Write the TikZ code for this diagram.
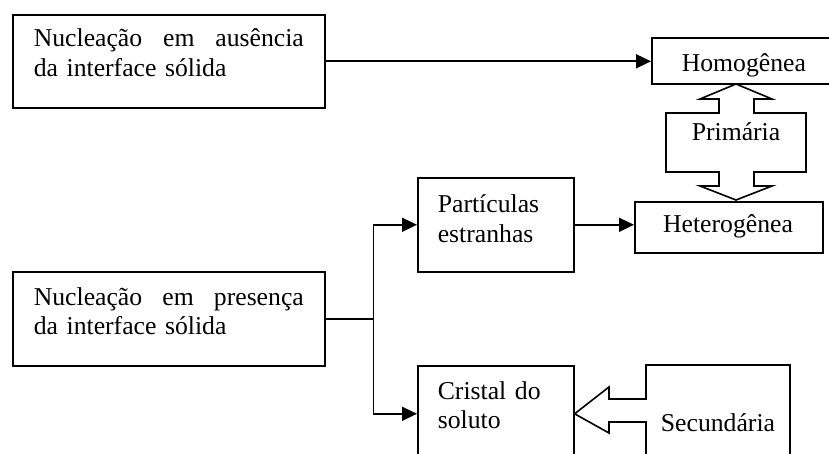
\documentclass[tikz,border=0pt]{standalone}
\usepackage{fontspec}
\setmainfont{Liberation Serif}
\usetikzlibrary{arrows.meta}
\tikzset{
  box/.style={draw, line width=1.6pt, inner sep=0pt, anchor=north west},
  txt/.style={inner sep=0pt, font=\fontsize{25.7}{29.5}\selectfont},
  jtxt/.style={txt, text width=275pt, anchor=base west},
  mtxt/.style={txt, text width=140pt, anchor=base west},
  conn/.style={line width=1.6pt, -{Triangle[length=15pt,width=14pt]}},
  plain/.style={line width=1.6pt},
}
\begin{document}
\begin{tikzpicture}[x=1pt, y=-1pt, line width=1.6pt, line join=miter]
\useasboundingbox (0,0) rectangle (829,454);
\clip (0,0) rectangle (829,454);
\fill[white] (0,0) rectangle (829,454);
% boxes
\node[box, minimum width=312pt, minimum height=93pt] (b1) at (12,14) {};
\node[box, minimum width=312pt, minimum height=94pt] (b2) at (12,271) {};
\node[box, minimum width=190pt, minimum height=46pt] (homo) at (651,37) {};
\node[box, minimum width=188pt, minimum height=51pt] (hete) at (634,201) {};
\node[box, minimum width=156pt, minimum height=94pt] (part) at (417,177) {};
\node[box, minimum width=156pt, minimum height=96pt] (cris) at (417,365) {};
% texts
\node[jtxt] (t1) at (33,47) {\hbox to 270pt{Nucleação\hfill em\hfill ausência}\\\hbox{da interface sólida}};
\node[jtxt] (t2) at (33,305) {\hbox to 270pt{Nucleação\hfill em\hfill presença}\\\hbox{da interface sólida}};
\node[txt, anchor=base west] (thomo) at (681,72) {Homogênea};
\node[txt, anchor=base] (thete) at (728,233) {Heterogênea};
\node[mtxt] (tpart) at (437,213) {\hbox{Partículas}\\\hbox{estranhas}};
\node[mtxt] (tcris) at (437,399) {\hbox{Cristal do}\\\hbox{soluto}};
\node[txt, anchor=base] (tprim) at (736,141) {Primária};
\node[txt, anchor=base] (tsec) at (718,431) {Secundária};
% primary double arrow
\draw[plain] (736,84) -- (772,99) -- (754,99) -- (754,113) -- (806,113) -- (806,172)
  -- (754,172) -- (754,186) -- (772,186) -- (736,200) -- (700,186) -- (719,186)
  -- (719,172) -- (666,172) -- (666,113) -- (719,113) -- (719,99) -- (700,99) -- cycle;
% secondary box with arrow
\draw[plain] (646,470) -- (646,422) -- (609,422) -- (609,433) -- (cris.east) -- (609,387)
  -- (609,399) -- (646,399) -- (646,365) -- (790,365) -- (790,470);
% connectors
\coordinate (j) at ([xshift=48pt]b2.east);
\draw[conn] (b1.east) -- (b1.east -| homo.west);
\draw[plain] (b2.east) -- (j);
\draw[conn] (j) |- (part.west);
\draw[conn] (j) |- (cris.west);
\draw[conn] (part.east) -- (part.east -| hete.west);
\end{tikzpicture}
\end{document}
